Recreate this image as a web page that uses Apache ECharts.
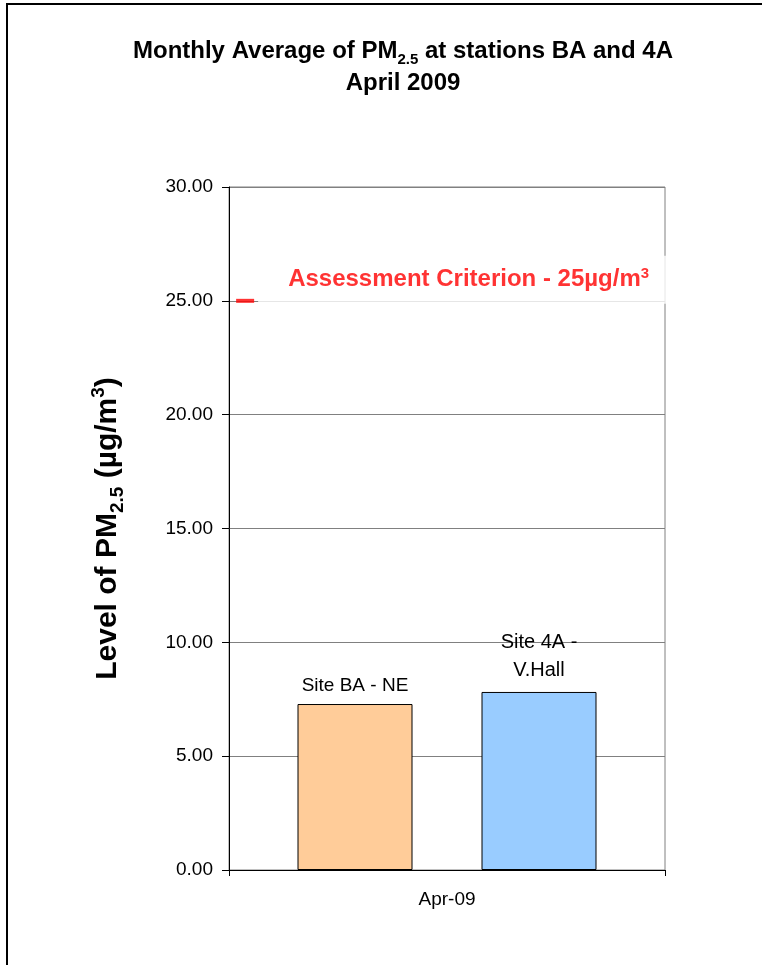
<!DOCTYPE html>
<html lang="en">
<head>
    <meta charset="UTF-8">
    <title>Monthly Average of PM2.5</title>
    <script src="https://cdn.jsdelivr.net/npm/echarts@6/dist/echarts.min.js"></script>
    <style>
        html, body { margin: 0; padding: 0; background: #fff; }
    </style>
</head>
<body>
<div id="main" style="width: 762px;height:965px;"></div>
<script>
    // data
    var categories = ['Apr-09'];
    var siteNames = ['Site BA - NE', 'Site 4A -\nV.Hall'];
    var siteValues = [7.29, 7.82];
    var criterion = 25;
    var yTicks = { min: 0, max: 30, interval: 5 };

    var font = 'Arial, "Liberation Sans", sans-serif';

    var myChart = echarts.init(document.getElementById('main'));
    var option = {
        backgroundColor: '#fff',
        animation: false,
        graphic: [{
            type: 'rect',
            shape: { x: 7, y: 4, width: 800, height: 1000 },
            style: { fill: 'none', stroke: '#000', lineWidth: 2 },
            z: 100
        }],
        title: {
            left: 398,
            top: 30,
            textAlign: 'center',
            text: '{t|Monthly Average of PM}{sub|2.5}{t| at stations BA and 4A}\n{t|April 2009}',
            textStyle: {
                rich: {
                    t: { fontFamily: font, fontSize: 24, fontWeight: 'bold', color: '#000', lineHeight: 32 },
                    sub: { fontFamily: font, fontSize: 15, fontWeight: 'bold', color: '#000', lineHeight: 20, verticalAlign: 'bottom' }
                }
            }
        },
        grid: {
            left: 229, right: 97, top: 187, bottom: 95,
            show: true, borderColor: '#808080', borderWidth: 1
        },
        xAxis: [{
            type: 'category',
            data: categories,
            axisLine: { lineStyle: { color: '#000' } },
            axisTick: { show: true, length: 6, lineStyle: { color: '#000' } },
            axisLabel: { color: '#000', fontFamily: font, fontSize: 19, margin: 20 }
        }, {
            type: 'value', min: 0, max: 100, show: false
        }],
        yAxis: {
            type: 'value',
            min: yTicks.min, max: yTicks.max, interval: yTicks.interval,
            name: '{t|Level of PM}{sub|2.5}{t| (µg/m}{sup|3}{t|)}',
            nameLocation: 'middle',
            nameGap: 102,
            nameTextStyle: {
                rich: {
                    t: { fontFamily: font, fontSize: 30, fontWeight: 'bold', color: '#000', lineHeight: 38 },
                    sub: { fontFamily: font, fontSize: 19, fontWeight: 'bold', color: '#000', lineHeight: 24, verticalAlign: 'bottom' },
                    sup: { fontFamily: font, fontSize: 19, fontWeight: 'bold', color: '#000', lineHeight: 24, verticalAlign: 'top' }
                }
            },
            axisLine: { show: true, lineStyle: { color: '#000' } },
            axisTick: { show: true, length: 7, lineStyle: { color: '#000' } },
            axisLabel: {
                color: '#000', fontFamily: font, fontSize: 19, margin: 16,
                formatter: function (v) { return v.toFixed(2); }
            },
            splitLine: { lineStyle: { color: '#808080' } }
        },
        series: [{
            name: siteNames[0],
            type: 'bar',
            data: [siteValues[0]],
            barWidth: 115,
            barGap: '60%',
            itemStyle: { color: '#FFCC99', borderColor: '#000', borderWidth: 1 },
            label: { show: true, position: 'top', distance: 9, formatter: '{a}', color: '#000', fontFamily: font, fontSize: 19 }
        }, {
            name: siteNames[1],
            type: 'bar',
            data: [siteValues[1]],
            barWidth: 115,
            itemStyle: { color: '#99CCFF', borderColor: '#000', borderWidth: 1 },
            label: { show: true, position: 'top', distance: 7, formatter: '{a}', color: '#000', fontFamily: font, fontSize: 20, lineHeight: 28 }
        }, {
            name: 'Assessment Criterion',
            type: 'scatter',
            xAxisIndex: 1,
            data: [[3.7, criterion]],
            symbol: 'rect',
            symbolSize: [18, 4],
            itemStyle: { color: '#FF0000' },
            z: 5,
            label: {
                show: true,
                position: 'right',
                distance: 4,
                offset: [0, -21],
                backgroundColor: '#fff',
                padding: [11, 26, 11, 30],
                formatter: '{t|Assessment Criterion - 25µg/m}{sup|3}',
                rich: {
                    t: { fontFamily: font, fontSize: 24, fontWeight: 'bold', color: '#FF0000', lineHeight: 26 },
                    sup: { fontFamily: font, fontSize: 15, fontWeight: 'bold', color: '#FF0000', lineHeight: 16, verticalAlign: 'top' }
                }
            }
        }]
    };
    myChart.setOption(option);
</script>
</body>
</html>
